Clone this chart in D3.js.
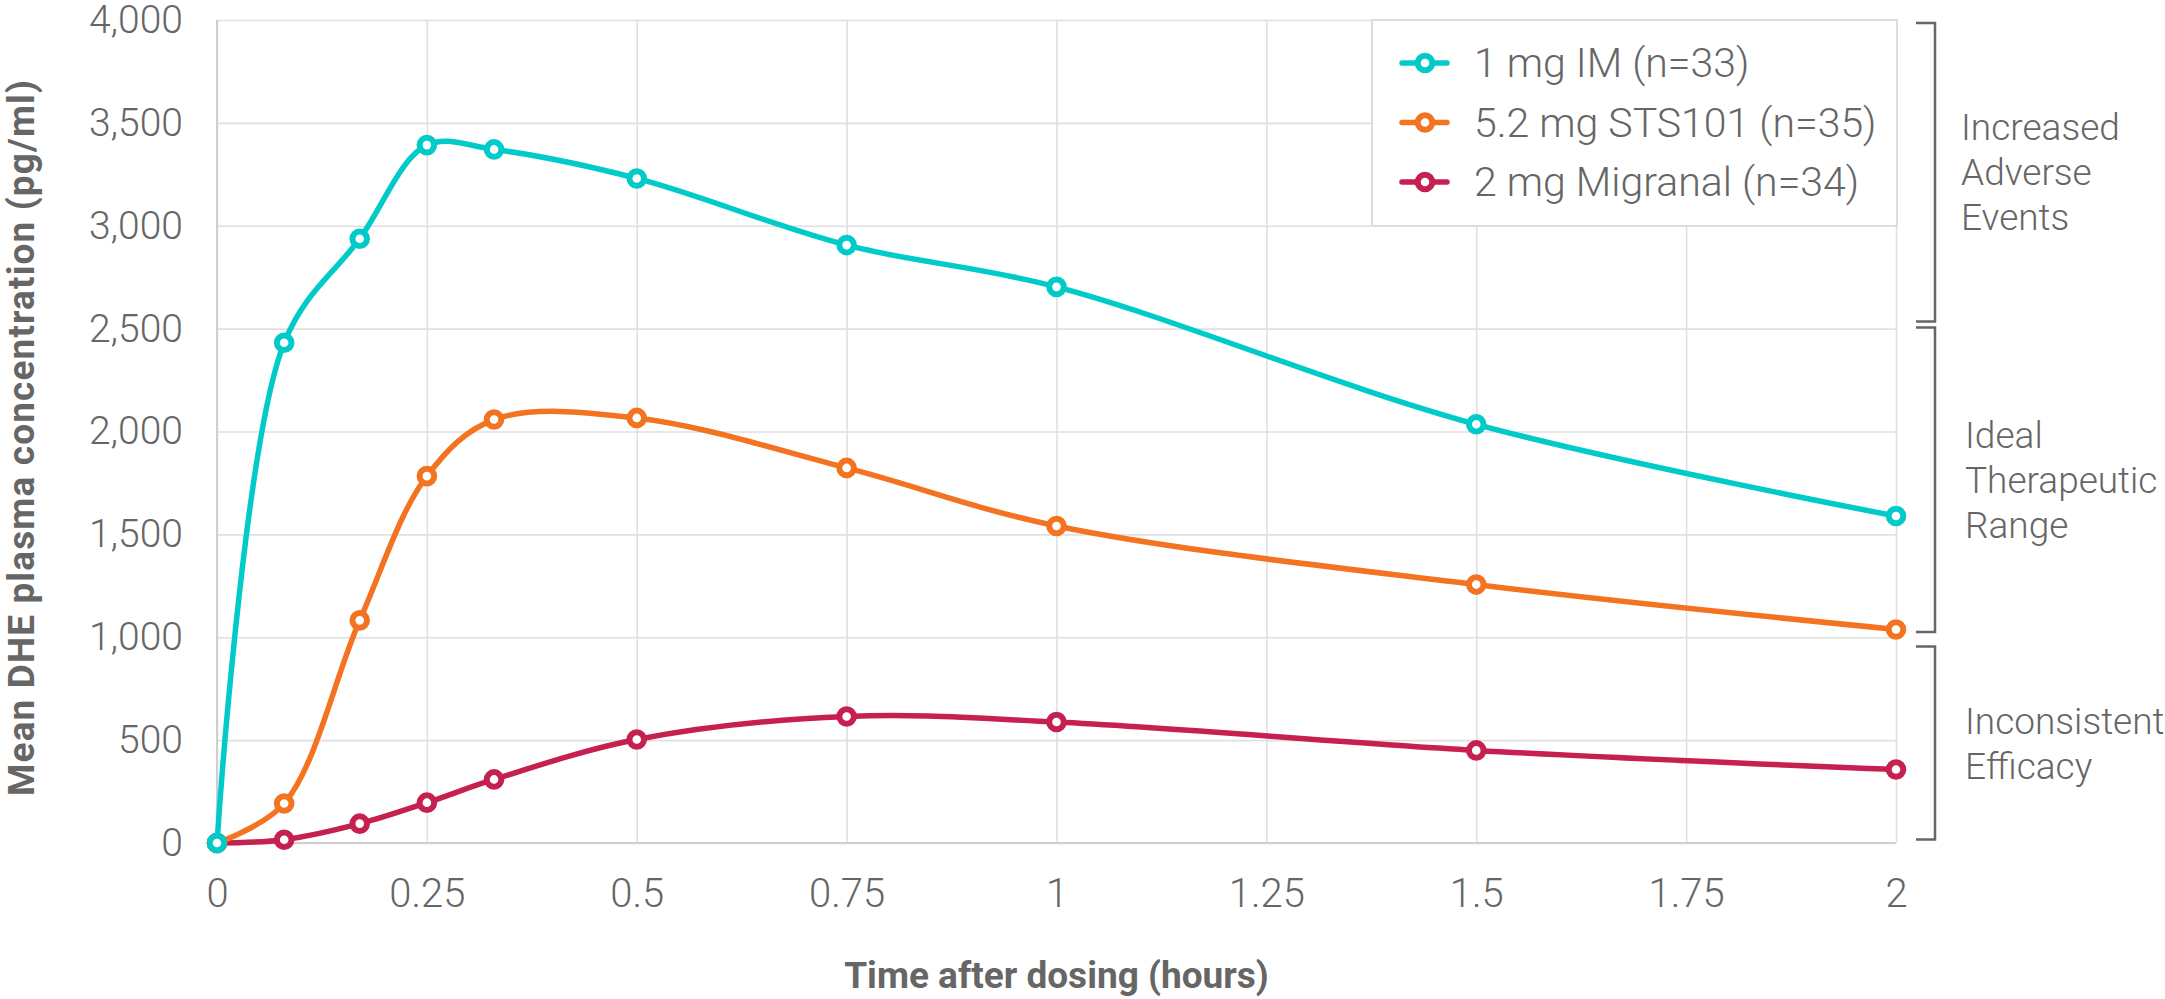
<!DOCTYPE html>
<html>
<head>
<meta charset="utf-8">
<script src="https://cdn.jsdelivr.net/npm/d3@7"></script>
<style>
  html, body { margin: 0; padding: 0; background: #fff; }
  svg { display: block; font-family: Roboto, "Open Sans", sans-serif; }
  .tick-label { font-family: "Roboto Light", Roboto, sans-serif; font-weight: 300; fill: #666; }
  .axis-title { font-weight: 700; fill: #666; }
</style>
</head>
<body>
<svg id="chart" width="2165" height="999"></svg>
<script>
// time points (hours) and mean DHE plasma concentration (pg/ml)
const times = [0, 0.08, 0.17, 0.25, 0.33, 0.5, 0.75, 1, 1.5, 2];
const imValues = [0, 2431, 2937, 3392, 3371, 3230, 2906, 2703, 2035, 1589];
const stsValues = [0, 192, 1082, 1783, 2058, 2066, 1823, 1541, 1256, 1038];
const migranalValues = [0, 16, 94, 196, 309, 503, 615, 588, 450, 357];

const seriesNames = ['1 mg IM (n=33)', '5.2 mg STS101 (n=35)', '2 mg Migranal (n=34)'];
const seriesColors = ['#00cbc9', '#f37321', '#c5204f'];

const xTicks = [0, 0.25, 0.5, 0.75, 1, 1.25, 1.5, 1.75, 2];
const xTickLabels = ['0', '0.25', '0.5', '0.75', '1', '1.25', '1.5', '1.75', '2'];
const yTicks = [0, 500, 1000, 1500, 2000, 2500, 3000, 3500, 4000];
const yTickLabels = ['0', '500', '1,000', '1,500', '2,000', '2,500', '3,000', '3,500', '4,000'];

// right-hand range brackets (value span + label lines)
const bandLabels = [
    ['Increased', 'Adverse', 'Events'],
    ['Ideal', 'Therapeutic', 'Range'],
    ['Inconsistent', 'Efficacy']
];
const bandTop = [3985, 2505, 955];
const bandBottom = [2535, 1025, 17];

const margin = { left: 217, top: 20, right: 269, bottom: 156 };
const W = 2165, H = 999;
const plotW = W - margin.left - margin.right;
const plotH = H - margin.top - margin.bottom;

const svg = d3.select('#chart');
const g = svg.append('g').attr('transform', `translate(${margin.left},${margin.top})`);

const x = d3.scaleLinear().domain([0, 2]).range([0, plotW]);
const y = d3.scaleLinear().domain([0, 4000]).range([plotH, 0]);

// grid lines
const yGrid = g.append('g')
    .call(d3.axisLeft(y).tickValues(yTicks).tickSize(-plotW).tickFormat(''));
const xGrid = g.append('g')
    .call(d3.axisBottom(x).tickValues(xTicks).tickSize(plotH).tickFormat(''));
[yGrid, xGrid].forEach(a => {
    a.select('.domain').remove();
    a.selectAll('line').attr('stroke', '#e0e0e0').attr('stroke-width', 1.6);
});

// axis lines
g.append('line').attr('x1', 0).attr('x2', 0).attr('y1', 0).attr('y2', plotH)
    .attr('stroke', '#cfcfcf').attr('stroke-width', 2);
g.append('line').attr('x1', 0).attr('x2', plotW).attr('y1', plotH).attr('y2', plotH)
    .attr('stroke', '#cfcfcf').attr('stroke-width', 2.2);

// tick labels
const yAxis = g.append('g')
    .call(d3.axisLeft(y).tickValues(yTicks).tickSize(0).tickPadding(34)
        .tickFormat((d, i) => yTickLabels[i]));
yAxis.select('.domain').remove();
yAxis.selectAll('text').attr('class', 'tick-label')
    .style('font-size', '39px').attr('font-family', null).attr('fill', null);

const xAxis = g.append('g')
    .attr('transform', `translate(0,${plotH})`)
    .call(d3.axisBottom(x).tickValues(xTicks).tickSize(0).tickPadding(36)
        .tickFormat((d, i) => xTickLabels[i]));
xAxis.select('.domain').remove();
xAxis.selectAll('text').attr('class', 'tick-label')
    .style('font-size', '40px').attr('font-family', null).attr('fill', null);

// axis titles
svg.append('text').attr('class', 'axis-title')
    .attr('x', margin.left + plotW / 2).attr('y', 988)
    .attr('text-anchor', 'middle').style('font-size', '37px')
    .text('Time after dosing (hours)');
svg.append('text').attr('class', 'axis-title')
    .attr('transform', 'translate(34,438) rotate(-90)')
    .attr('text-anchor', 'middle').style('font-size', '37px')
    .attr('textLength', 716).attr('lengthAdjust', 'spacing')
    .text('Mean DHE plasma concentration (pg/ml)');

// series
const series = [imValues, stsValues, migranalValues].map((vals, i) => ({
    name: seriesNames[i],
    color: seriesColors[i],
    points: times.map((t, j) => ({ t, v: vals[j] }))
}));

const line = d3.line()
    .x(d => x(d.t))
    .y(d => y(d.v))
    .curve(d3.curveCatmullRom.alpha(0.5));

// draw bottom series first so cyan sits on top like the reference
series.slice().reverse().forEach(s => {
    g.append('path')
        .datum(s.points)
        .attr('fill', 'none')
        .attr('stroke', s.color)
        .attr('stroke-width', 5.5)
        .attr('d', line);
    g.selectAll(null)
        .data(s.points)
        .enter()
        .append('circle')
        .attr('cx', d => x(d.t))
        .attr('cy', d => y(d.v))
        .attr('r', 7.3)
        .attr('fill', '#fff')
        .attr('stroke', s.color)
        .attr('stroke-width', 6);
});

// legend
const legend = svg.append('g').attr('transform', 'translate(1372,20)');
legend.append('rect')
    .attr('width', 525).attr('height', 206)
    .attr('fill', '#fff').attr('stroke', '#dedede').attr('stroke-width', 2);
series.forEach((s, i) => {
    const row = legend.append('g').attr('transform', `translate(0,${43 + i * 59.5})`);
    row.append('line').attr('x1', 30).attr('x2', 75)
        .attr('stroke', s.color).attr('stroke-width', 5.5).attr('stroke-linecap', 'round');
    row.append('circle').attr('cx', 53).attr('r', 7.3)
        .attr('fill', '#fff').attr('stroke', s.color).attr('stroke-width', 6);
    row.append('text').attr('class', 'tick-label')
        .attr('x', 102).attr('y', 14).style('font-size', '41px')
        .text(s.name);
});

// brackets
const bx = margin.left + plotW + 39;
bandLabels.forEach((lines, i) => {
    const y0 = margin.top + y(bandTop[i]);
    const y1 = margin.top + y(bandBottom[i]);
    svg.append('path')
        .attr('d', `M${bx - 19},${y0} H${bx} V${y1} H${bx - 19}`)
        .attr('fill', 'none').attr('stroke', '#666').attr('stroke-width', 2.5);
    const mid = (y0 + y1) / 2;
    const lh = 45;
    const firstBase = mid + 13 - (lines.length - 1) * lh / 2;
    const t = svg.append('text').attr('class', 'tick-label').style('font-size', '37px');
    lines.forEach((txt, k) => {
        t.append('tspan').attr('x', i === 0 ? bx + 26 : bx + 30)
            .attr('y', firstBase + k * lh).text(txt);
    });
});
</script>
</body>
</html>
